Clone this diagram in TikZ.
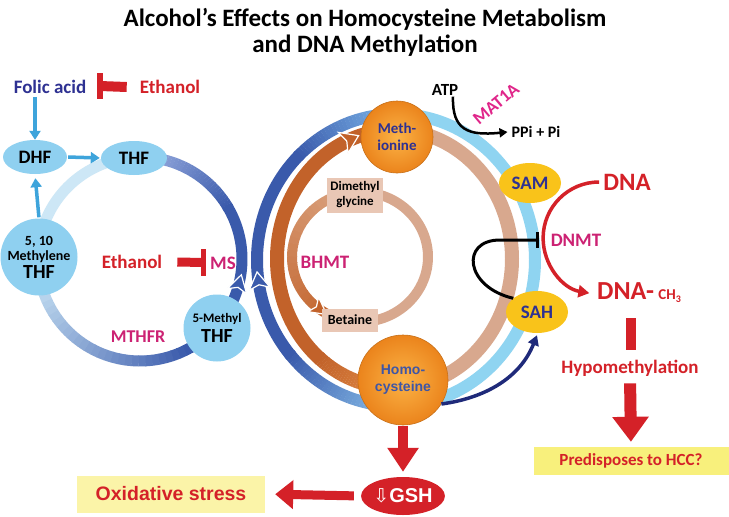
\documentclass[tikz,border=0pt]{standalone}
\usepackage{fontspec}
\setmainfont{Carlito}
\newfontfamily\arialf{Liberation Sans}
\newfontfamily\dejavu{DejaVu Sans}
\usetikzlibrary{shapes.geometric,arrows.meta}
\definecolor{navyc}{HTML}{2E3192}
\definecolor{redc}{HTML}{D42128}
\definecolor{magc}{HTML}{CC2273}
\definecolor{pinkc}{HTML}{E0268A}
\definecolor{bluedark}{HTML}{3A5AAB}
\definecolor{bluemid}{HTML}{9AAEE0}
\definecolor{palebl}{HTML}{CDE7F6}
\definecolor{ringlb}{HTML}{8FD4F1}
\definecolor{outerlow}{HTML}{86BCE8}
\definecolor{outertop}{HTML}{7DB7EA}
\definecolor{orangedk}{HTML}{C2622A}
\definecolor{orangelt}{HTML}{E08A45}
\definecolor{tanc}{HTML}{D8A88E}
\definecolor{tanlt}{HTML}{DBA684}
\definecolor{tanbox}{HTML}{E9C7B5}
\definecolor{ellbl}{HTML}{8FD0F0}
\definecolor{arrbl}{HTML}{3EA4DB}
\definecolor{samy}{HTML}{F9C31A}
\definecolor{ballin}{HTML}{FBB346}
\definecolor{ballout}{HTML}{EB841C}
\definecolor{hcytext}{HTML}{3E56A6}
\definecolor{arrnavy}{HTML}{1F2A7A}
\definecolor{hccy}{HTML}{F8F07C}
\definecolor{oxy}{HTML}{FBF4A8}
\newcommand{\fsz}[2]{\fontsize{#1}{#2}\selectfont}
% gradient elliptical arc: cx cy rx ry width a b colA colB
\newcommand{\garc}[9]{%
  \foreach \k in {0,...,29}{%
    \pgfmathsetmacro\gA{#6+(#7-#6)*\k/30}%
    \pgfmathsetmacro\gB{#6+(#7-#6)*(\k+1.08)/30}%
    \pgfmathsetmacro\gX{#1+#3*cos(\gA)}%
    \pgfmathsetmacro\gY{#2+#4*sin(\gA)}%
    \pgfmathtruncatemacro\gP{100*\k/29}%
    \colorlet{gtmp}{#9!\gP!#8}%
    \draw[gtmp, line width=#5pt] (\gX,\gY) arc[start angle=\gA, end angle=\gB, x radius=#3, y radius=#4];
  }}
% uniform elliptical arc: cx cy rx ry width a b col
\newcommand{\uarc}[8]{%
  \pgfmathsetmacro\gX{#1+#3*cos(#6)}%
  \pgfmathsetmacro\gY{#2+#4*sin(#6)}%
  \draw[#8, line width=#5pt] (\gX,\gY) arc[start angle=#6, end angle=#7, x radius=#3, y radius=#4];}
% ring arrowhead: x y rotation colour halfwidth
\newcommand{\rarr}[5]{%
  \begin{scope}[shift={(#1,#2)}, rotate=#3]
    \filldraw[fill=#4, draw=white, line width=1.2pt] (11,0) -- (-6,#5) -- (-2,0) -- (-6,-#5) -- cycle;
  \end{scope}}
\begin{document}
\begin{tikzpicture}[x=1pt,y=-1pt,
  lbl/.style={inner sep=0pt, font=\bfseries},
  blueell/.style={ellipse, fill=ellbl, inner sep=0pt, font=\bfseries\fsz{19}{19}},
  bluecirc/.style={circle, fill=ellbl, inner sep=0pt, align=center},
  ball/.style={circle, inner color=ballin, outer color=ballout, draw=ballout!85!black, line width=0.6pt, inner sep=0pt, align=center},
  tanboxst/.style={rectangle, fill=tanbox, inner sep=0pt, align=center},
  yell/.style={ellipse, fill=samy, inner sep=0pt, text=navyc, font=\bfseries\fsz{19}{19}},
  barrow/.style={draw=arrbl, line width=3.5pt, -{Triangle[width=11pt,length=9pt]}},
  redstem/.style={draw=redc, line width=10pt},
  redbar/.style={draw=redc, line width=5.5pt},
  bigred/.style={draw=redc, line width=10pt, -{Triangle[width=30pt,length=24pt]}},
  magl/.style={lbl, text=magc, font=\bfseries\fsz{19}{19}},
  redl/.style={lbl, text=redc, font=\bfseries\fsz{19}{19}}
]
\useasboundingbox (0,0) rectangle (729,517);
\fill[white] (0,0) rectangle (729,517);

% title
\node[lbl, font=\bfseries\fsz{25}{28}] (title1) at (365,19) {Alcohol’s Effects on Homocysteine Metabolism};
\node[lbl, font=\bfseries\fsz{25}{28}] (title2) at (365,46) {and DNA Methylation};

% folate ring
\garc{140}{259}{102}{102}{11}{272}{330}{bluemid}{bluedark}
\uarc{140}{259}{102}{102}{11}{329}{421}{bluedark}
\garc{140}{259}{102}{102}{11}{420}{535}{bluedark}{palebl}
\uarc{140}{259}{102}{102}{11}{534}{636}{palebl}

% methionine cycle outer ring
\uarc{396}{260}{139}{146}{12}{268}{452}{ringlb}
\garc{396}{260}{139}{146}{12}{92}{140}{outerlow}{bluedark}
\uarc{396}{260}{139}{146}{12}{139}{226}{bluedark}
\garc{396}{260}{139}{146}{12}{225}{270}{bluedark}{outertop}

% orange ring
\uarc{394.5}{259}{117.5}{129}{14}{268}{452}{tanc}
\garc{394.5}{259}{117.5}{129}{14}{92}{130}{orangelt}{orangedk}
\uarc{394.5}{259}{117.5}{129}{14}{129}{272}{orangedk}

% inner ring
\uarc{360}{257}{68}{65}{10}{268}{462}{tanc}
\garc{360}{257}{68}{65}{10}{100}{272}{orangedk}{tanlt}

% ring arrowheads
\rarr{238.5}{285.4}{75}{bluedark}{10}
\rarr{258.7}{282.8}{98.6}{bluedark}{10.5}
\rarr{348.6}{140.3}{25}{orangedk}{11.5}
\rarr{318}{308}{-36.7}{orangedk}{9}

% folate nodes
\node[blueell, minimum width=64pt, minimum height=34pt] (dhf) at (35,157) {DHF};
\node[blueell, minimum width=66pt, minimum height=34pt] (thf) at (134,158) {THF};
\node[bluecirc, minimum size=77pt, font=\bfseries\fsz{14}{15}] (m510) at (39,257) {5, 10\\Methylene\\[2pt]{\fsz{20}{20}THF}};
\node[bluecirc, minimum size=67pt, font=\bfseries\fsz{13}{15}] (mthf) at (217,328) {5-Methyl\\[4pt]{\fsz{20}{20}THF}};

\node[lbl, text=navyc, font=\bfseries\fsz{19}{19}] (folic) at (50,87) {Folic acid};
\node[redl] (eth1) at (170,87) {Ethanol};
\node[redl] (eth2) at (132,262) {Ethanol};
\node[magl] (ms) at (223,263) {MS};
\node[magl, font=\bfseries\fsz{18}{18}] (mthfr) at (138,337) {MTHFR};

% methionine cycle nodes
\node[ball, minimum size=72pt, text=navyc, font=\bfseries\fsz{15}{17}] (met) at (397,137) {Meth-\\ionine};
\node[ball, minimum size=90pt, text=hcytext, font=\arialf\bfseries\fsz{14}{17}] (hcy) at (403,380) {Homo-\\cysteine};
\node[tanboxst, minimum width=56pt, minimum height=35pt, font=\bfseries\fsz{13}{15}] (dmg) at (355,195) {Dimethyl\\glycine};
\node[tanboxst, minimum width=56pt, minimum height=23pt, font=\bfseries\fsz{14}{14}] (bet) at (350,320) {Betaine};
\node[magl] (bhmt) at (325,262) {BHMT};

\node[lbl, font=\bfseries\fsz{17}{17}] (atp) at (445,90) {ATP};
\node[lbl, font=\bfseries\fsz{16}{16}] (ppi) at (536,132) {PPi + Pi};
\node[lbl, text=pinkc, font=\bfseries\fsz{18}{18}, rotate=40] (mat) at (496,104) {MAT1A};

\node[yell, minimum width=62pt, minimum height=40pt] (sam) at (530,183) {SAM};
\node[yell, minimum width=62pt, minimum height=42pt] (sah) at (537,312) {SAH};

\node[lbl, text=redc, font=\bfseries\fsz{25}{25}] (dna) at (627,182) {DNA};
\node[magl] (dnmt) at (576,240) {DNMT};
\node[lbl, text=redc, font=\bfseries\fsz{26}{26}, anchor=west] (dnach) at (597,293) {DNA-\,\fsz{15}{15}CH\raisebox{-3pt}{\fsz{10}{10}3}};
\node[redl] (hypo) at (630,368) {Hypomethylation};
\node[rectangle, fill=hccy, minimum width=195pt, minimum height=28pt, inner sep=0pt, text=redc, font=\bfseries\fsz{17}{17}] (hcc) at (631,461) {Predisposes to HCC?};

\node[ellipse, fill=redc, minimum width=68pt, minimum height=38pt, inner sep=0pt, text=white] (gsh) at (403,496) {{\dejavu\fsz{19}{19}⇩}{\arialf\bfseries\fsz{20}{20}GSH}};
\node[rectangle, fill=oxy, minimum width=188pt, minimum height=37pt, inner sep=0pt, text=redc, font=\arialf\bfseries\fsz{19.5}{19.5}] (oxi) at (171,494) {Oxidative stress};

% folate connectors
\draw[barrow, shorten <=3pt] (folic.south -| dhf.north) -- (dhf.north);
\draw[barrow, shorten <=1pt, shorten >=1pt] (dhf.east) -- (thf.west);
\draw[barrow, shorten <=1pt, shorten >=4pt] (m510.north) -- (dhf.south);

% ethanol inhibitions
\coordinate (t1) at (100,86);
\draw[redstem] ([xshift=-13pt]eth1.west) -- (t1);
\draw[redbar] (t1) ++(0,-13) -- ++(0,26);
\coordinate (t2) at (203.5,262.5);
\draw[redstem, line width=9pt] ([xshift=15pt]eth2.east) -- (t2);
\draw[redbar] (t2) ++(0,-13.5) -- ++(0,27);

% MAT1A
\draw[line width=2.5pt, -{Triangle[width=9pt,length=8pt]}] ([xshift=8pt,yshift=-1pt]atp.south) .. controls (452,130) and (468,136) .. ([xshift=-4pt]ppi.west);

% SAH inhibits DNMT
\coordinate (t3) at (537,240);
\draw[line width=3pt] (sah.150) .. controls (465,287) and (460,240) .. (500,240) -- (t3);
\draw[line width=3pt] (t3) ++(0,-8) -- ++(0,16);

% homocysteine to SAH
\draw[arrnavy, line width=3.5pt, -{Triangle[width=11pt,length=10pt]}] (hcy.-32) .. controls (485,398) and (520,378) .. ([yshift=-2pt]sah.south);

% DNA methylation
\draw[redc, line width=3.5pt, -{Triangle[width=12pt,length=11pt]}] ([xshift=-4pt]dna.west) arc[start angle=270, end angle=100, radius=56];
\coordinate (b1) at (631,318);
\coordinate (b2) at (631,350);
\draw[redstem] (b1) -- (b2);
\draw[redc, line width=12pt, -{Triangle[width=35pt,length=25pt]}, shorten <=7pt, shorten >=5pt] (hypo.south) -- (hcc.north);

% homocysteine outputs
\draw[bigred, shorten <=1pt, shorten >=5pt] (hcy.south) -- (gsh.north);
\draw[redc, line width=9pt, -{Triangle[width=28pt,length=18pt]}, shorten <=7pt, shorten >=10pt] (gsh.west) -- (oxi.east);
\end{tikzpicture}
\end{document}
